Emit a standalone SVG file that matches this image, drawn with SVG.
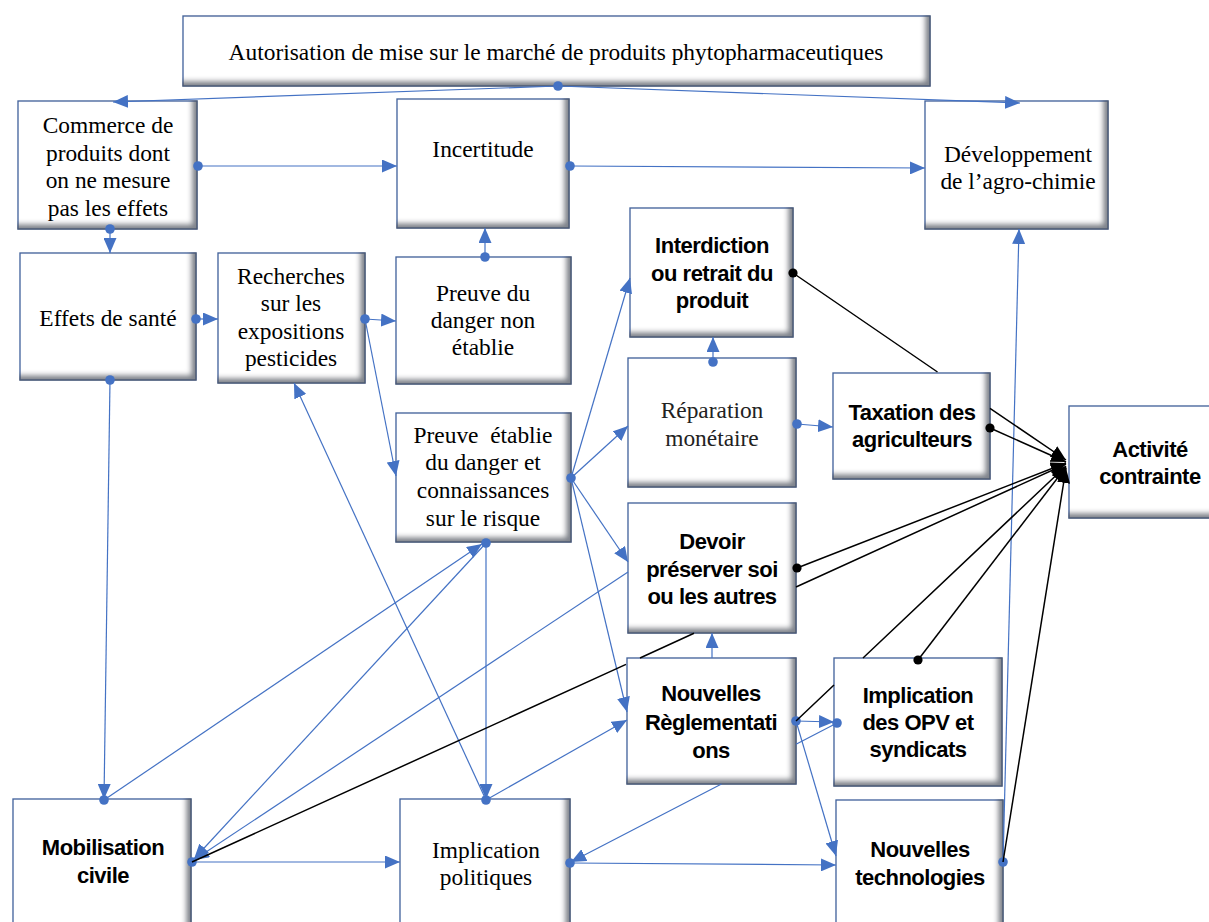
<svg xmlns="http://www.w3.org/2000/svg" width="1209" height="922" viewBox="0 0 1209 922">
<style>
.box{fill:#fff;stroke:#41619c;stroke-width:1.3;filter:url(#sh)}
.t{font-family:"Liberation Serif","Times New Roman",serif;font-size:23.4px;fill:#000;text-anchor:middle}
.b{font-family:"Liberation Sans",Arial,sans-serif;font-size:22px;font-weight:bold;letter-spacing:-0.5px;fill:#000;text-anchor:middle}
.cb{fill:none;stroke:#4472c4;stroke-width:1.2}
.ck{fill:none;stroke:#000;stroke-width:1.5}
.dA{marker-end:url(#ab)}
.sD{marker-start:url(#db)}
.kA{marker-end:url(#ak)}
.kD{marker-start:url(#dk)}
</style>
<defs>
<filter id="sh" x="-3%" y="-3%" width="106%" height="106%">
<feOffset in="SourceAlpha" dx="-6" dy="-6" result="o"/>
<feGaussianBlur in="o" stdDeviation="2.5" result="bl"/>
<feComposite in="SourceAlpha" in2="bl" operator="out" result="band"/>
<feFlood flood-color="#4f5867" flood-opacity="0.85"/>
<feComposite in2="band" operator="in" result="s"/>
<feMerge><feMergeNode in="SourceGraphic"/><feMergeNode in="s"/></feMerge>
</filter>
<marker id="ab" markerUnits="userSpaceOnUse" markerWidth="15" markerHeight="13" viewBox="0 0 15 13" refX="15" refY="6.5" orient="auto"><path d="M0,0 L15,6.5 L0,13 z" fill="#4472c4"/></marker>
<marker id="ak" markerUnits="userSpaceOnUse" markerWidth="15" markerHeight="13" viewBox="0 0 15 13" refX="15" refY="6.5" orient="auto"><path d="M0,0 L15,6.5 L0,13 z" fill="#000"/></marker>
<marker id="db" markerUnits="userSpaceOnUse" markerWidth="10" markerHeight="10" viewBox="-5 -5 10 10" refX="0" refY="0"><circle r="4.8" fill="#4472c4"/></marker>
<marker id="dk" markerUnits="userSpaceOnUse" markerWidth="10" markerHeight="10" viewBox="-5 -5 10 10" refX="0" refY="0"><circle r="4.6" fill="#000"/></marker>
</defs>

<g id="n-autorisation"><rect class="box" x="183" y="16" width="747" height="70"/><text class="t" x="556" y="60">Autorisation de mise sur le marché de produits phytopharmaceutiques</text></g>
<g id="n-commerce"><rect class="box" x="18" y="101" width="179" height="128"/><text class="t"><tspan x="108" y="133">Commerce de</tspan><tspan x="108" y="160.5">produits dont</tspan><tspan x="108" y="188">on ne mesure</tspan><tspan x="108" y="215.5">pas les effets</tspan></text></g>
<g id="n-incertitude"><rect class="box" x="397" y="99" width="172" height="129"/><text class="t" x="483" y="157">Incertitude</text></g>
<g id="n-developpement"><rect class="box" x="925" y="101" width="183" height="128"/><text class="t"><tspan x="1018" y="161.5">Développement</tspan><tspan x="1018" y="188.5">de l’agro-chimie</tspan></text></g>
<g id="n-effets"><rect class="box" x="20" y="253" width="176" height="127"/><text class="t" x="108" y="326">Effets de santé</text></g>
<g id="n-recherches"><rect class="box" x="218" y="253" width="147" height="130"/><text class="t"><tspan x="291" y="283.5">Recherches</tspan><tspan x="291" y="311">sur les</tspan><tspan x="291" y="338.5">expositions</tspan><tspan x="291" y="366">pesticides</tspan></text></g>
<g id="n-preuve-non"><rect class="box" x="396" y="257" width="175" height="127"/><text class="t"><tspan x="483" y="300.5">Preuve du</tspan><tspan x="483" y="327.5">danger non</tspan><tspan x="483" y="355">établie</tspan></text></g>
<g id="n-preuve-etablie"><rect class="box" x="396" y="413" width="175" height="129"/><text class="t"><tspan x="483" y="442.5">Preuve&#160; établie</tspan><tspan x="483" y="470">du danger et</tspan><tspan x="483" y="497.5">connaissances</tspan><tspan x="483" y="525.5">sur le risque</tspan></text></g>
<g id="n-interdiction"><rect class="box" x="630" y="208" width="163" height="129"/><text class="b"><tspan x="712" y="253">Interdiction</tspan><tspan x="712" y="280.5">ou retrait du</tspan><tspan x="712" y="308">produit</tspan></text></g>
<g id="n-reparation"><rect class="box" x="628" y="358" width="168" height="129"/><text class="t" style="fill:#222"><tspan x="712" y="418">Réparation</tspan><tspan x="712" y="446">monétaire</tspan></text></g>
<g id="n-taxation"><rect class="box" x="833" y="373" width="157" height="106"/><text class="b"><tspan x="912" y="420">Taxation des</tspan><tspan x="912" y="447">agriculteurs</tspan></text></g>
<g id="n-activite"><rect class="box" x="1069" y="406" width="165" height="112"/><text class="b"><tspan x="1150" y="457">Activité</tspan><tspan x="1150" y="484">contrainte</tspan></text></g>
<g id="n-devoir"><rect class="box" x="628" y="503" width="168" height="130"/><text class="b"><tspan x="712" y="549">Devoir</tspan><tspan x="712" y="577">préserver soi</tspan><tspan x="712" y="604">ou les autres</tspan></text></g>
<g id="n-reglementations"><rect class="box" x="627" y="658" width="169" height="126"/><text class="b"><tspan x="711" y="701">Nouvelles</tspan><tspan x="711" y="730">Règlementati</tspan><tspan x="711" y="758">ons</tspan></text></g>
<g id="n-opv"><rect class="box" x="834" y="658" width="168" height="128"/><text class="b"><tspan x="918" y="703">Implication</tspan><tspan x="918" y="730">des OPV et</tspan><tspan x="918" y="757">syndicats</tspan></text></g>
<g id="n-technologies"><rect class="box" x="836" y="800" width="167" height="140"/><text class="b"><tspan x="920" y="857">Nouvelles</tspan><tspan x="920" y="885">technologies</tspan></text></g>
<g id="n-mobilisation"><rect class="box" x="13" y="799" width="178" height="140"/><text class="b"><tspan x="103" y="855">Mobilisation</tspan><tspan x="103" y="883">civile</tspan></text></g>
<g id="n-politiques"><rect class="box" x="400" y="799" width="170" height="140"/><text class="t"><tspan x="486" y="858">Implication</tspan><tspan x="486" y="885">politiques</tspan></text></g>

<g id="connectors">
<path class="cb sD dA" d="M558,86 L113,102"/>
<path class="cb dA" d="M558,86 L1020,103"/>
<path class="cb sD dA" d="M198,166 L397,166"/>
<path class="cb sD dA" d="M570,166 L925,168"/>
<path class="cb sD dA" d="M110,229 L110,253"/>
<path class="cb sD dA" d="M485,257 L485,228"/>
<path class="cb sD dA" d="M196,319 L218,319"/>
<path class="cb sD dA" d="M365,319 L396,321"/>
<path class="cb dA" d="M365,319 L396,476"/>
<path class="cb sD dA" d="M110,380 L104,799"/>
<path class="cb sD dA" d="M571,478 L630,278"/>
<path class="cb dA" d="M571,478 L628,426"/>
<path class="cb dA" d="M571,478 L628,562"/>
<path class="cb dA" d="M571,478 L627,712"/>
<path class="cb sD dA" d="M713,362 L713,337"/>
<path class="cb sD dA" d="M797,424 L833,427"/>
<path class="cb dA" d="M712,658 L712,633"/>
<path class="cb sD dA" d="M796,721 L834,722"/>
<path class="cb sD dA" d="M837,723 L796,744.3 M721.5,784 L571,862"/>
<path class="cb dA" d="M796,721 L836,856"/>
<path class="cb sD dA" d="M570,863 L836,865"/>
<path class="cb sD dA" d="M486,543 L486,799"/>
<path class="cb sD dA" d="M486,800 L294,383"/>
<path class="cb dA" d="M486,800 L627,720"/>
<path class="cb sD dA" d="M192,862 L400,862"/>
<path class="cb sD dA" d="M104,800 L482,544"/>
<path class="cb dA" d="M486,543 L194,859"/>
<path class="cb dA" d="M628,572 L194,860"/>
<path class="cb sD dA" d="M1003,862 L1019,229"/>
<path class="ck kD kA" d="M793,273 L937.5,372 M990,408.3 L1066,460"/>
<path class="ck kD kA" d="M990,428 L1066,462"/>
<path class="ck kD kA" d="M797,568 L1066,463"/>
<path class="ck kA" d="M192,862 L626,664.4 M640,658 L694,633.3 M796,587 L1066,464"/>
<path class="ck kA" d="M796,721 L834,685 M863,658 L1066,466"/>
<path class="ck kD kA" d="M918,660 L1066,467"/>
<path class="ck kA" d="M1003,862 L1066,468"/>
</g>
</svg>
